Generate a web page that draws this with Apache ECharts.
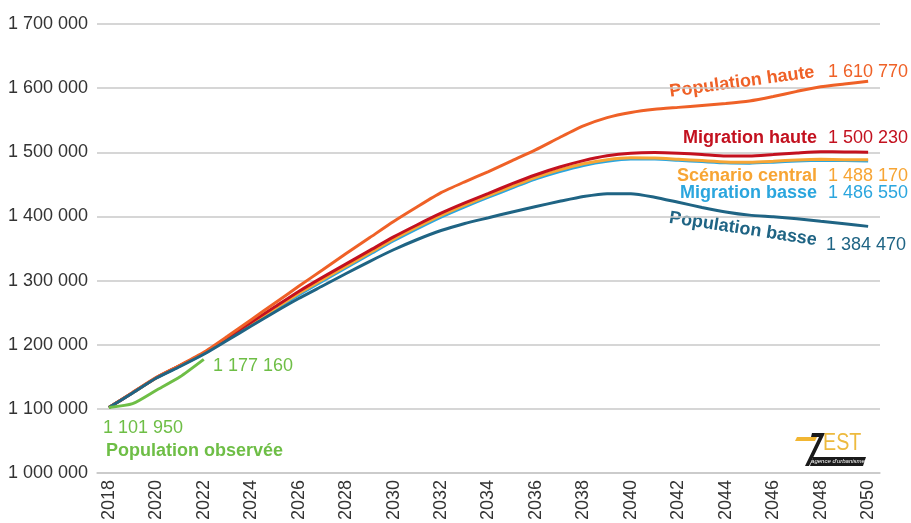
<!DOCTYPE html>
<html>
<head>
<meta charset="utf-8">
<script src="https://cdn.jsdelivr.net/npm/echarts@6/dist/echarts.min.js"></script>
<style>
  html, body { margin: 0; padding: 0; background: #ffffff; }
  #chart { width: 911px; height: 523px; }
</style>
</head>
<body>
<div id="chart"></div>
<script>
// Années de projection
var years = ['2018','2019','2020','2021','2022','2023','2024','2025','2026','2027','2028',
             '2029','2030','2031','2032','2033','2034','2035','2036','2037','2038','2039',
             '2040','2041','2042','2043','2044','2045','2046','2047','2048','2049','2050'];

// Graduations de l'axe vertical
var yTicks = [1000000, 1100000, 1200000, 1300000, 1400000, 1500000, 1600000, 1700000];

// Population observée (2018-2022)
var populationObservee = [1101950, 1108000, 1129000, 1150000, 1177160];

// Scénarios de projection
var populationHaute = [1101950, 1125500, 1149000, 1168000, 1188000, 1213000, 1239000, 1265000, 1291000, 1316500, 1342000,
                       1367000, 1392000, 1415000, 1437000, 1454000, 1470000, 1487000, 1504000, 1523000, 1541000, 1554000,
                       1562000, 1567000, 1570000, 1573000, 1576000, 1580000, 1587000, 1595000, 1602000, 1606500, 1610770];

var migrationHaute = [1101950, 1125000, 1148500, 1167500, 1187000, 1211000, 1235000, 1259000, 1283000, 1305000, 1326000,
                      1347000, 1368000, 1387000, 1405000, 1421000, 1436000, 1451000, 1465000, 1477000, 1487000, 1494500,
                      1498500, 1499500, 1498500, 1496500, 1494000, 1494000, 1496500, 1499000, 1501000, 1500500, 1500230];

var scenarioCentral = [1101950, 1125000, 1148300, 1167300, 1186500, 1210000, 1233000, 1256500, 1280000, 1301500, 1322500,
                       1343500, 1364500, 1383500, 1401500, 1417500, 1432500, 1447000, 1461000, 1472500, 1482000, 1488500,
                       1491500, 1491000, 1489000, 1487000, 1485000, 1484500, 1486000, 1488000, 1489000, 1488500, 1488170];

var migrationBasse = [1101950, 1124800, 1148000, 1167000, 1186000, 1209000, 1231500, 1254500, 1277500, 1299000, 1320000,
                      1341000, 1362000, 1381000, 1399000, 1415000, 1430000, 1444500, 1458500, 1470000, 1479500, 1486000,
                      1489500, 1489500, 1487500, 1485500, 1483500, 1483000, 1484500, 1486500, 1487500, 1487000, 1486550];

var populationBasse = [1101950, 1124800, 1148000, 1166000, 1185000, 1207000, 1229000, 1251000, 1272000, 1291500, 1311000,
                       1330000, 1348000, 1364000, 1378000, 1389000, 1398000, 1407000, 1415500, 1423500, 1431000, 1435500,
                       1435500, 1430000, 1422000, 1414000, 1407000, 1402000, 1399500, 1396500, 1392500, 1388500, 1384470];

var COLORS = {
  haute: '#EF6127',
  migHaute: '#C3111F',
  central: '#F7A534',
  migBasse: '#2BA6DE',
  basse: '#1F6484',
  observee: '#6EBE46'
};

var FONT = '"Liberation Sans", Arial, Helvetica, sans-serif';

function fmt(v) {
  return String(v).replace(/\B(?=(\d{3})+(?!\d))/g, ' ');
}
function last(arr) { return arr[arr.length - 1]; }

function lineSeries(name, data, color, z) {
  return {
    name: name,
    type: 'line',
    data: data,
    symbol: 'none',
    smooth: 0.2,
    z: z,
    lineStyle: { color: color, width: 3 },
    emphasis: { disabled: true }
  };
}

function txt(x, y, text, color, bold, align, rotation) {
  return {
    type: 'text',
    x: x, y: y,
    rotation: rotation || 0,
    silent: true,
    style: {
      text: text,
      fill: color,
      font: (bold ? 'bold ' : '') + '18px ' + FONT,
      textAlign: align || 'left',
      textVerticalAlign: 'middle'
    }
  };
}

var chart = echarts.init(document.getElementById('chart'), null, { renderer: 'canvas' });

var option = {
  animation: false,
  backgroundColor: '#ffffff',
  grid: { left: 97, right: 31, top: 24, bottom: 47, containLabel: false },
  xAxis: {
    type: 'category',
    data: years,
    boundaryGap: true,
    axisLine: { show: true, lineStyle: { color: '#c8c8c8', width: 1.5 } },
    axisTick: { show: false },
    axisLabel: {
      interval: 1,
      rotate: 90,
      margin: 7,
      color: '#333333',
      fontSize: 18,
      fontFamily: FONT
    }
  },
  yAxis: {
    type: 'value',
    min: yTicks[0],
    max: yTicks[yTicks.length - 1],
    interval: yTicks[1] - yTicks[0],
    axisLine: { show: false },
    axisTick: { show: false },
    splitLine: { lineStyle: { color: '#c8c8c8', width: 1.5 } },
    axisLabel: {
      margin: 9,
      color: '#333333',
      fontSize: 18,
      fontFamily: FONT,
      formatter: function (v) { return fmt(v); }
    }
  },
  series: [
    lineSeries('Migration basse', migrationBasse, COLORS.migBasse, 2),
    lineSeries('Scénario central', scenarioCentral, COLORS.central, 3),
    lineSeries('Migration haute', migrationHaute, COLORS.migHaute, 4),
    lineSeries('Population haute', populationHaute, COLORS.haute, 5),
    lineSeries('Population basse', populationBasse, COLORS.basse, 6),
    lineSeries('Population observée', populationObservee, COLORS.observee, 7)
  ],
  graphic: [
    // Étiquettes des scénarios
    txt(742, 82, 'Population haute', COLORS.haute, true, 'center', 0.136),
    txt(828, 72, fmt(last(populationHaute)), COLORS.haute, false, 'left'),
    txt(817, 138, 'Migration haute', COLORS.migHaute, true, 'right'),
    txt(828, 138, fmt(last(migrationHaute)), COLORS.migHaute, false, 'left'),
    txt(817, 176, 'Scénario central', COLORS.central, true, 'right'),
    txt(828, 176, fmt(last(scenarioCentral)), COLORS.central, false, 'left'),
    txt(817, 193, 'Migration basse', COLORS.migBasse, true, 'right'),
    txt(828, 193, fmt(last(migrationBasse)), COLORS.migBasse, false, 'left'),
    txt(743, 229, 'Population basse', COLORS.basse, true, 'center', -0.152),
    txt(826, 245, fmt(last(populationBasse)), COLORS.basse, false, 'left'),
    // Population observée
    txt(213, 366, fmt(last(populationObservee)), COLORS.observee, false, 'left'),
    txt(103, 428, fmt(populationObservee[0]), COLORS.observee, false, 'left'),
    txt(106, 451, 'Population observée', COLORS.observee, true, 'left'),
    // Logo de l'agence
    {
      type: 'group',
      silent: true,
      children: [
        { type: 'polygon', shape: { points: [[797, 437], [817, 437], [815, 441], [795, 441]] }, style: { fill: '#F2B632' } },
        { type: 'polygon', shape: { points: [[812, 433], [825, 433], [809, 466], [805, 466], [819, 437], [811, 437]] }, style: { fill: '#1a1a1a' } },
        { type: 'text', x: 823, y: 443, scaleX: 0.82, style: { text: 'EST', fill: '#EDBA3E', font: '24px ' + FONT, textAlign: 'left', textVerticalAlign: 'middle' } },
        { type: 'polygon', shape: { points: [[813, 457], [866, 457], [863, 466], [810, 466]] }, style: { fill: '#1a1a1a' } },
        { type: 'text', x: 838, y: 461.5, style: { text: "agence d'urbanisme", fill: '#ffffff', font: 'italic 6px ' + FONT, textAlign: 'center', textVerticalAlign: 'middle' } }
      ]
    }
  ]
};

chart.setOption(option);
</script>
</body>
</html>
